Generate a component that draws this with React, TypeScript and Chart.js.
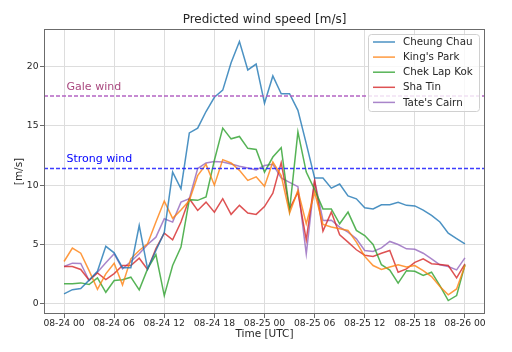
import { useEffect, useRef } from "react";
import { Chart, registerables } from "chart.js";

Chart.register(...registerables);

// Hourly forecast steps from 08-24 00 UTC to 08-26 00 UTC
const HOURS = Array.from({ length: 49 }, (_, i) => i);
const TICK_HOURS = [0, 6, 12, 18, 24, 30, 36, 42, 48];
const TICK_LABELS = ["08-24 00", "08-24 06", "08-24 12", "08-24 18", "08-25 00", "08-25 06", "08-25 12", "08-25 18", "08-26 00"];
const Y_TICKS = [0, 5, 10, 15, 20];

const STATIONS = ["Cheung Chau", "King's Park", "Chek Lap Kok", "Sha Tin", "Tate's Cairn"];

const CHEUNG_CHAU = [0.85, 1.2, 1.3, 2.0, 2.75, 4.85, 4.3, 3.05, 3.05, 6.6, 2.95, 4.5, 6.0,
  11.1, 9.7, 14.4, 14.8, 16.2, 17.4, 18.0, 20.3, 22.1, 19.7, 20.2, 16.9,
  19.2, 17.7, 17.7, 16.3, 13.5, 10.6, 10.6, 9.75, 10.1, 9.1, 8.85, 8.1,
  8.0, 8.35, 8.35, 8.55, 8.3, 8.25, 7.9, 7.45, 6.9, 5.95, 5.5, 5.05];
const KINGS_PARK = [3.57, 4.7, 4.27, 2.8, 1.23, 2.53, 3.43, 1.6, 3.8, 4.5, 5.06, 6.9, 8.66,
  7.2, 7.9, 8.7, 10.8, 11.75, 10.0, 12.15, 11.87, 11.25, 10.4, 10.7, 9.9,
  11.95, 10.8, 7.65, 9.56, 6.75, 9.4, 6.7, 6.47, 6.33, 6.19, 5.2, 4.0,
  3.23, 2.9, 3.1, 3.3, 3.1, 3.23, 2.8, 2.3, 1.46, 0.76, 1.26, 3.23];
const CHEK_LAP_KOK = [1.69, 1.69, 1.77, 1.63, 2.19, 0.98, 1.97, 2.03, 2.25, 1.18, 2.95, 4.16, 0.7,
  3.23, 4.78, 8.78, 8.72, 9.0, 12.1, 14.8, 13.9, 14.1, 13.1, 13.0, 11.1,
  12.37, 13.16, 7.87, 14.48, 11.1, 9.62, 8.0, 8.0, 6.75, 7.73, 6.19, 5.76,
  5.0, 3.3, 2.85, 1.74, 2.8, 2.75, 2.39, 2.67, 1.54, 0.28, 0.7, 3.29];
const SHA_TIN = [3.15, 3.15, 2.9, 2.0, 2.6, 2.05, 2.55, 3.23, 3.23, 3.85, 2.9, 4.65, 5.96,
  5.4, 6.89, 8.86, 7.87, 8.57, 7.73, 8.86, 7.54, 8.3, 7.65, 7.54, 8.2,
  9.33, 11.9, 8.0, 9.4, 5.4, 10.4, 6.13, 7.73, 5.82, 5.2, 4.56, 4.1,
  4.0, 4.27, 4.5, 2.67, 2.95, 3.5, 3.8, 3.38, 3.32, 3.23, 2.19, 3.38];
const TATES_CAIRN = [3.15, 3.43, 3.4, 1.97, 2.67, 3.46, 4.22, 2.95, 3.57, 4.22, 5.0, 5.62, 7.17,
  6.89, 8.57, 8.86, 11.4, 11.87, 12.0, 11.95, 11.78, 11.6, 11.45, 11.28, 11.65,
  11.75, 10.6, 10.23, 9.87, 4.22, 10.4, 7.03, 7.05, 6.47, 6.04, 5.48, 4.5,
  4.41, 4.72, 5.26, 5.0, 4.64, 4.6, 4.27, 3.8, 3.29, 3.15, 2.87, 3.88];

const SERIES = [CHEUNG_CHAU, KINGS_PARK, CHEK_LAP_KOK, SHA_TIN, TATES_CAIRN];
const COLORS = [
  "rgba(31,119,180,0.8)",
  "rgba(255,127,14,0.8)",
  "rgba(44,160,44,0.8)",
  "rgba(214,39,40,0.8)",
  "rgba(148,103,189,0.8)",
];

const GALE_WIND = 17.5;
const STRONG_WIND = 11.4;
const THRESHOLDS = [
  { value: GALE_WIND, label: "Gale wind", line: "rgba(176,92,192,0.95)", text: "#a9487f" },
  { value: STRONG_WIND, label: "Strong wind", line: "rgba(40,40,255,0.9)", text: "#0000ff" },
];

const FONT = "'DejaVu Sans', 'Liberation Sans', sans-serif";
const TEXT = "#262626";

const overlay = {
  id: "overlay",
  afterDatasetsDraw(chart: any) {
    const { ctx, chartArea: a, scales } = chart;
    const x = scales.x;
    const y = scales.y;
    ctx.save();
    // threshold lines
    THRESHOLDS.forEach((t) => {
      const py = y.getPixelForValue(t.value);
      ctx.strokeStyle = t.line;
      ctx.lineWidth = 1.5;
      ctx.setLineDash([4, 2]);
      ctx.beginPath();
      ctx.moveTo(a.left, py);
      ctx.lineTo(a.right, py);
      ctx.stroke();
      ctx.setLineDash([]);
      ctx.fillStyle = t.text;
      ctx.font = `11px ${FONT}`;
      ctx.textAlign = "left";
      ctx.textBaseline = "alphabetic";
      ctx.fillText(t.label, x.getPixelForValue(HOURS[0]) + 2.5, py - 6.3);
    });
    // frame
    ctx.strokeStyle = "#6b6b6b";
    ctx.lineWidth = 1;
    ctx.strokeRect(a.left + 0.5, a.top + 0.5, a.right - a.left - 1, a.bottom - a.top - 1);
    ctx.restore();
  },
  afterDraw(chart: any) {
    const { ctx, chartArea: a } = chart;
    ctx.save();
    // title
    ctx.fillStyle = TEXT;
    ctx.font = `12px ${FONT}`;
    ctx.textAlign = "center";
    ctx.textBaseline = "middle";
    const cx = (a.left + a.right) / 2;
    ctx.fillText("Predicted wind speed [m/s]", cx, 20);
    // axis titles
    ctx.font = `10.5px ${FONT}`;
    ctx.fillText("Time [UTC]", cx, 334);
    ctx.save();
    ctx.translate(19, (a.top + a.bottom) / 2);
    ctx.rotate(-Math.PI / 2);
    ctx.fillText("[m/s]", 0, 0);
    ctx.restore();
    // legend
    const bx = 368.5, by = 34.5, bw = 111, bh = 77, r = 3;
    ctx.beginPath();
    ctx.moveTo(bx + r, by);
    ctx.lineTo(bx + bw - r, by);
    ctx.arcTo(bx + bw, by, bx + bw, by + r, r);
    ctx.lineTo(bx + bw, by + bh - r);
    ctx.arcTo(bx + bw, by + bh, bx + bw - r, by + bh, r);
    ctx.lineTo(bx + r, by + bh);
    ctx.arcTo(bx, by + bh, bx, by + bh - r, r);
    ctx.lineTo(bx, by + r);
    ctx.arcTo(bx, by, bx + r, by, r);
    ctx.closePath();
    ctx.fillStyle = "rgba(255,255,255,0.8)";
    ctx.fill();
    ctx.strokeStyle = "#d0d0d0";
    ctx.lineWidth = 1;
    ctx.stroke();
    chart.data.datasets.forEach((ds: any, i: number) => {
      const cy = 42 + i * 15.1;
      ctx.strokeStyle = ds.borderColor;
      ctx.lineWidth = 1.5;
      ctx.beginPath();
      ctx.moveTo(373, cy);
      ctx.lineTo(395, cy);
      ctx.stroke();
      ctx.fillStyle = TEXT;
      ctx.font = `10.3px ${FONT}`;
      ctx.textAlign = "left";
      ctx.textBaseline = "middle";
      ctx.fillText(ds.label, 403, cy + 0.5);
    });
    ctx.restore();
  },
};

export default function App() {
  const ref = useRef<HTMLCanvasElement | null>(null);
  useEffect(() => {
    if (!ref.current) return;
    const chart = new Chart(ref.current, {
      type: "line",
      data: {
        datasets: STATIONS.map((name, i) => ({
          label: name,
          data: HOURS.map((h, j) => ({ x: h, y: SERIES[i][j] })),
          borderColor: COLORS[i],
          backgroundColor: COLORS[i],
          borderWidth: 1.5,
          pointRadius: 0,
          tension: 0,
          fill: false,
        })),
      },
      options: {
        animation: false,
        responsive: false,
        devicePixelRatio: 1,
        layout: { padding: { top: 29, right: 27, left: 0, bottom: 0 } },
        plugins: { legend: { display: false }, title: { display: false }, tooltip: { enabled: false } },
        scales: {
          x: {
            type: "linear",
            min: -2.4,
            max: 50.4,
            afterBuildTicks: (s: any) => {
              s.ticks = TICK_HOURS.map((v) => ({ value: v }));
            },
            afterFit: (s: any) => {
              s.height = 38;
            },
            ticks: {
              autoSkip: false,
              maxRotation: 0,
              padding: 0,
              color: TEXT,
              font: { family: FONT, size: 9.2 },
              callback: (v: any) => TICK_LABELS[TICK_HOURS.indexOf(Number(v))] ?? "",
            },
            grid: { color: "#dddddd", lineWidth: 1, tickColor: "#6b6b6b", tickLength: 4 },
            border: { display: false },
          },
          y: {
            type: "linear",
            min: -0.85,
            max: 23.15,
            afterBuildTicks: (s: any) => {
              s.ticks = Y_TICKS.map((v) => ({ value: v }));
            },
            afterFit: (s: any) => {
              s.width = 44;
            },
            ticks: {
              padding: 1.5,
              color: TEXT,
              font: { family: FONT, size: 9.2 },
            },
            grid: { color: "#dddddd", lineWidth: 1, tickColor: "#6b6b6b", tickLength: 4 },
            border: { display: false },
          },
        },
      },
      plugins: [overlay],
    });
    return () => chart.destroy();
  }, []);
  return (
    <div style={{ position: "absolute", left: 0, top: 0, width: 512, height: 352, background: "#fff" }}>
      <canvas ref={ref} width={512} height={352} />
    </div>
  );
}
